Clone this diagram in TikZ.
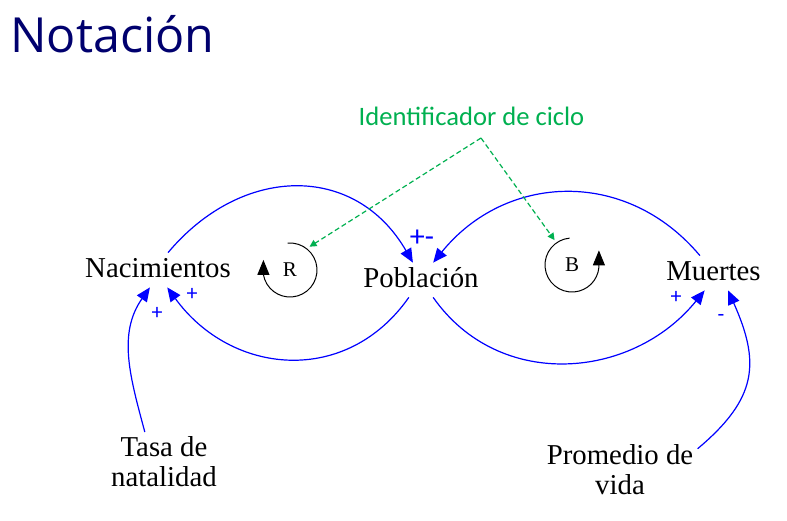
\documentclass[tikz,border=0pt]{standalone}
\usepackage{fontspec}
\setmainfont{Liberation Serif}
\newfontfamily\titlefont{Open Sans}
\newfontfamily\notefont{Carlito}
\usepackage{tikz}
\usetikzlibrary{positioning,
arrows.meta,
shapes.geometric}
\definecolor{titleblue}{RGB}{0,0,110}
\definecolor{loopgreen}{RGB}{0,176,80}
\tikzstyle{Arrow} = [
blue, line width=0.6pt,
-{Triangle[length=7pt,width=6pt]}
]
\tikzstyle{Loop} = [
black, line width=0.5pt,
-{Triangle[length=7.5pt,width=6pt]}
]
\tikzstyle{Pointer} = [
loopgreen, line width=0.6pt, dash pattern=on 2.5pt off 1.5pt,
-{Triangle[length=3.5pt,width=3.5pt]}
]
\tikzstyle{Var} = [inner sep=2pt, text height=10pt, text depth=3pt,
font=\fontsize{14.4pt}{15pt}\selectfont]
\tikzstyle{Aux} = [inner sep=2pt, align=center, anchor=north,
font=\fontsize{14.4pt}{15pt}\selectfont]
\tikzstyle{Sign} = [blue, inner sep=0pt, font=\notefont\fontsize{11pt}{11pt}\selectfont]
\tikzstyle{Marker} = [circle, minimum size=30pt, inner sep=0pt,
font=\fontsize{10.5pt}{10.5pt}\selectfont]

\begin{document}
\begin{tikzpicture}[x=0.5pt, y=-0.5pt]
   \useasboundingbox (0,0) rectangle (787,520);
   \node [anchor=base west, inner sep=0pt, text=titleblue,
      font=\titlefont\fontsize{24.2pt}{25pt}\selectfont] (title) at (10,52) {Notación};

   \node [Var] (nac) at (158,270) {Nacimientos};
   \node [Var] (pob) at (421,280) {Población};
   \node [Var] (muer) at (713.5,273) {Muertes};
   \node [Aux] (tasa) at (164,432) {Tasa de\\natalidad};
   \node [Aux] (prom) at (620,440) {Promedio de\\vida};

   \node [Marker] (rl) at (290,270) {R};
   \node [Marker] (bl) at (572,265) {B};
   \node [anchor=base, inner sep=0pt, text=loopgreen,
      font=\notefont\fontsize{13.3pt}{13.3pt}\selectfont] (id) at (471.5,125) {Identificador de ciclo};
   \coordinate (idpt) at (481,138);

   \draw [Arrow] (nac.60) to [out=50, in=120, looseness=1.2] (pob.115);
   \draw [Arrow] (pob.-125) to [out=-125, in=-54, looseness=1.15] (nac.-62);
   \draw [Arrow] (pob.-55) to [out=-55, in=-129, looseness=1.08] (muer.-117);
   \draw [Arrow] (muer.128) to [out=130, in=51, looseness=1.1] (pob.55);
   \draw [Arrow] (tasa.123) to [out=105, in=-125] (nac.-115);
   \draw [Arrow] (prom.15) to [out=40, in=-66, looseness=1.25] (muer.-50);

   \node [Sign, font=\notefont\fontsize{15pt}{15pt}\selectfont] (pm) at (422,238) {+-};
   \node [Sign] (s1) at (192,294) {+};
   \node [Sign] (s2) at (157,313) {+};
   \node [Sign] (s3) at (676,297) {+};
   \node [Sign] (s4) at (721,318) {-};

   \draw [Loop] ([shift={(95:13.5pt)}]rl.center) arc [start angle=95, end angle=-170, radius=13.5pt] -- ++(90:7.4pt);
   \draw [Loop] ([shift={(95:13.5pt)}]bl.center) arc [start angle=95, end angle=355, radius=13.5pt] -- ++(90:8.5pt);
   \draw [Pointer] (idpt) -- (rl.50);
   \draw [Pointer] (idpt) -- (bl.125);
\end{tikzpicture}
\end{document}
